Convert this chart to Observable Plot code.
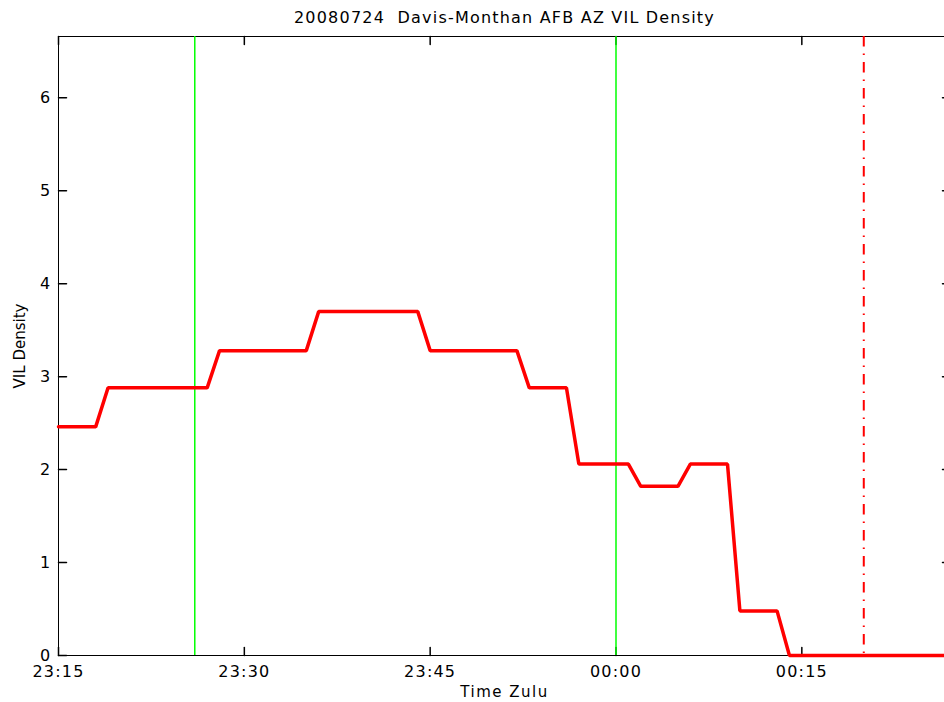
<!DOCTYPE html>
<html>
<head>
<meta charset="utf-8">
<script src="https://cdn.jsdelivr.net/npm/d3@7"></script>
<script src="https://cdn.jsdelivr.net/npm/@observablehq/plot@0.6"></script>
<style>
  html, body { margin: 0; padding: 0; background: white; }
  #chart { width: 944px; height: 702px; overflow: hidden; }
</style>
</head>
<body>
<div id="chart"></div>
<script>
// ---- data ----
const titleText = "20080724  Davis-Monthan AFB AZ VIL Density";
const xLabel = "Time Zulu";
const yLabel = "VIL Density";
const times = ["23:15","23:18","23:19","23:27","23:28","23:35","23:36","23:44","23:45","23:52","23:53","23:56","23:57","00:01","00:02","00:05","00:06","00:09","00:10","00:13","00:14","00:27"];
const vil   = [2.46, 2.46, 2.88, 2.88, 3.28, 3.28, 3.70, 3.70, 3.28, 3.28, 2.88, 2.88, 2.06, 2.06, 1.82, 1.82, 2.06, 2.06, 0.48, 0.48, 0, 0];
const greenTimes = ["23:26", "00:00"];
const redTimes = ["00:20"];
const xTickLabels = ["23:15", "23:30", "23:45", "00:00", "00:15"];
const yTickValues = [0, 1, 2, 3, 4, 5, 6];
const xStart = "23:15", xEnd = "00:27";
const yMax = 6.66;

function toDate(s) {
  const [h, m] = s.split(":").map(Number);
  return new Date(Date.UTC(2008, 6, h >= 12 ? 24 : 25, h, m));
}
const data = times.map((t, i) => ({time: toDate(t), v: vil[i]}));
const xTicks = xTickLabels.map(toDate);
const tickShape = {draw(ctx, l) { ctx.moveTo(0, 0); ctx.lineTo(0, -l); }};

const plot = Plot.plot({
  width: 944,
  height: 702,
  marginLeft: 58,
  marginRight: -6,
  marginTop: 36,
  marginBottom: 47,
  style: {fontFamily: "DejaVu Sans", fontSize: "16px", letterSpacing: "1.2px", color: "black", background: "white", overflow: "hidden"},
  x: {type: "utc", domain: [toDate(xStart), toDate(xEnd)]},
  y: {domain: [0, yMax]},
  marks: [
    Plot.frame({stroke: "black", strokeWidth: 1}),
    Plot.axisX({ticks: xTicks, tickFormat: d3.utcFormat("%H:%M"), tickSize: 0, tickPadding: 10, label: null}),
    Plot.axisY({ticks: yTickValues, tickFormat: d3.format("d"), tickSize: 0, tickPadding: 7, label: null}),
    Plot.vector(xTicks, {x: d => d, frameAnchor: "bottom", length: 8, rotate: 0, anchor: "start", shape: tickShape, stroke: "black"}),
    Plot.vector(xTicks, {x: d => d, frameAnchor: "top", length: 8, rotate: 180, anchor: "start", shape: tickShape, stroke: "black"}),
    Plot.vector(yTickValues, {y: d => d, frameAnchor: "left", length: 8, rotate: 90, anchor: "start", shape: tickShape, stroke: "black"}),
    Plot.vector(yTickValues, {y: d => d, frameAnchor: "right", length: 8, rotate: -90, anchor: "start", shape: tickShape, stroke: "black"}),
    Plot.ruleX(greenTimes.map(toDate), {stroke: "#00ff00", strokeWidth: 1.5}),
    Plot.ruleX(redTimes.map(toDate), {stroke: "#ff0000", strokeWidth: 2, strokeDasharray: "10.5,7,1.5,7"}),
    Plot.line(data, {x: "time", y: "v", stroke: "#ff0000", strokeWidth: 3.5, strokeLinejoin: "miter"}),
    Plot.text([titleText], {text: d => d, frameAnchor: "top", lineAnchor: "middle", dy: -19, fontSize: 16}),
    Plot.text([xLabel], {text: d => d, frameAnchor: "bottom", lineAnchor: "middle", dy: 37, fontSize: 15}),
    Plot.text([yLabel], {text: d => d, frameAnchor: "left", textAnchor: "middle", lineAnchor: "middle", dx: -38, rotate: -90, fontSize: 15})
  ]
});
document.getElementById("chart").appendChild(plot);
d3.select(plot).selectAll("text").filter(function() { return this.textContent === yLabel; }).style("letter-spacing", "0px");
d3.select(plot).selectAll("text").filter(function() { return this.textContent === xLabel; }).style("letter-spacing", "1.5px");
</script>
</body>
</html>
